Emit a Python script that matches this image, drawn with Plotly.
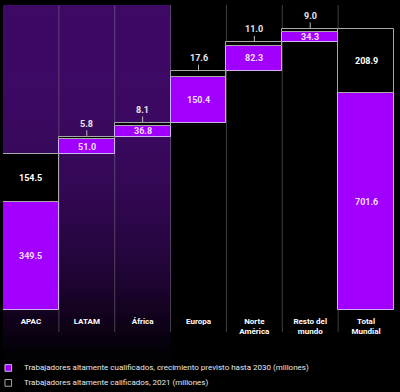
import plotly.graph_objects as go

categories = ["APAC", "LATAM", "África", "Europa", "Norte<br>América", "Resto del<br>mundo", "Total<br>Mundial"]
growth_2030 = [349.5, 51.0, 36.8, 150.4, 82.3, 34.3, 701.6]
workers_2021 = [154.5, 5.8, 8.1, 17.6, 11.0, 9.0, 208.9]
legend_labels = [
    "Trabajadores altamente cualificados, crecimiento previsto hasta 2030 (millones)",
    "Trabajadores altamente calificados, 2021 (millones)",
]

PURPLE = "#a100ff"
FONT = "Roboto"

# waterfall bases
n = len(categories)
purple_base, black_base = [], []
running = 0.0
for i in range(n):
    if i == n - 1:
        purple_base.append(0.0)
        black_base.append(growth_2030[i])
    else:
        purple_base.append(running)
        black_base.append(running + growth_2030[i])
        running += growth_2030[i] + workers_2021[i]

xs = list(range(n))
fig = go.Figure()

# gradient background on first three columns (overlapping strips, no seams)
steps = 60
y_top, y_bot = 1.0, -0.165
for k in range(steps):
    t0 = k / steps
    tm = (k + 0.5) / steps
    f = max(0.0, 1 - tm ** 2.6)
    col = f"rgb({int(62*f)},{int(10*f)},{int(102*f)})"
    fig.add_shape(type="rect", xref="x", yref="paper",
                  x0=-0.52, x1=2.5,
                  y0=y_bot,
                  y1=y_top - (y_top - y_bot) * t0,
                  fillcolor=col, line_width=0, layer="below")

# column separators
for sx in [0.5, 1.5, 2.5, 3.5, 4.5, 5.5]:
    fig.add_shape(type="line", xref="x", yref="paper", x0=sx, x1=sx, y0=-0.072, y1=1.0,
                  line=dict(color="rgba(140,140,140,0.45)", width=1), layer="below")

fig.add_trace(go.Bar(x=xs, y=growth_2030, base=purple_base, width=1.0,
                     marker=dict(color=PURPLE, line=dict(color="#cdb2ee", width=1)),
                     name=legend_labels[0], showlegend=False, hoverinfo="skip"))
fig.add_trace(go.Bar(x=xs, y=workers_2021, base=black_base, width=1.0,
                     marker=dict(color="#000000", line=dict(color="#a8a8a8", width=1)),
                     name=legend_labels[1], showlegend=False, hoverinfo="skip"))

# value labels
for i in range(n):
    fig.add_annotation(x=xs[i], y=purple_base[i] + growth_2030[i] / 2, text=f"{growth_2030[i]:.1f}",
                       showarrow=False, font=dict(family=FONT, size=9, color="#f3ddff", weight="bold"))
    if workers_2021[i] > 30:
        fig.add_annotation(x=xs[i], y=black_base[i] + workers_2021[i] / 2, text=f"{workers_2021[i]:.1f}",
                           showarrow=False, font=dict(family=FONT, size=9, color="#ffffff", weight="bold"))
    else:
        fig.add_annotation(x=xs[i], y=black_base[i] + workers_2021[i], text=f"{workers_2021[i]:.1f}",
                           showarrow=True, arrowhead=0, arrowwidth=1, arrowcolor="#bbbbbb",
                           ax=0, ay=-13, standoff=1,
                           font=dict(family=FONT, size=9, color="#e6e6e6", weight="bold"))

# custom legend
leg_y = [-0.190, -0.239]
leg_fill = [PURPLE, "#000000"]
leg_line = ["#cdb2ee", "#a8a8a8"]
for j in range(2):
    fig.add_shape(type="rect", xref="paper", yref="paper",
                  x0=0.005, x1=0.022, y0=leg_y[j] - 0.011, y1=leg_y[j] + 0.011,
                  fillcolor=leg_fill[j], line=dict(color=leg_line[j], width=1))
    fig.add_annotation(xref="paper", yref="paper", x=0.048, y=leg_y[j], xanchor="left", yanchor="middle",
                       text=legend_labels[j], showarrow=False,
                       font=dict(family=FONT, size=8, color="#e8e8e8"))

fig.update_layout(
    width=400, height=392,
    margin=dict(l=3, r=6, t=5, b=82),
    paper_bgcolor="#000000", plot_bgcolor="rgba(0,0,0,0)",
    barmode="overlay", bargap=0,
    showlegend=False,
    font=dict(family=FONT, color="#ffffff"),
)
fig.update_xaxes(tickmode="array", tickvals=xs, ticktext=categories, range=[-0.5, n - 0.5],
                 showgrid=False, zeroline=False, showline=False,
                 tickfont=dict(family=FONT, size=8, color="#ffffff", weight="bold"),
                 ticklen=0, ticklabelstandoff=5)
fig.update_yaxes(range=[0, 988], visible=False, showgrid=False, zeroline=False)

fig.write_html("out.html", config={"displayModeBar": False},
               post_script="document.body.style.margin='0';document.body.style.background='#000';")
